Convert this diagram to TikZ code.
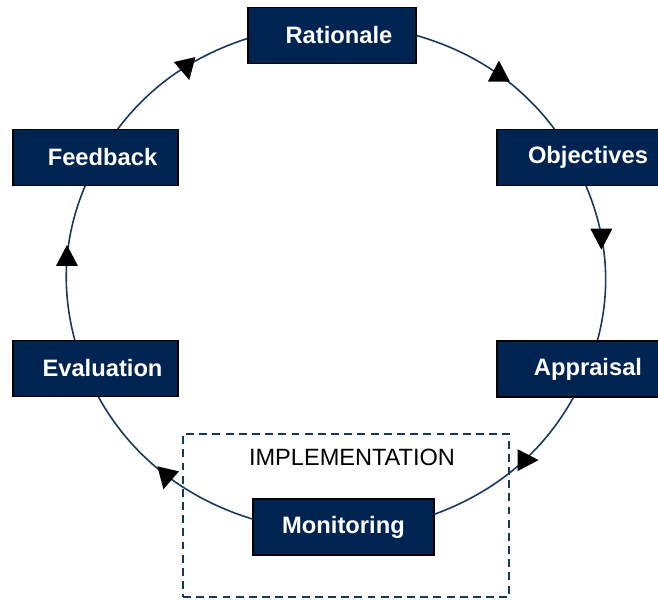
\documentclass[tikz,border=0pt]{standalone}
\usepackage{fontspec}
\setmainfont{Liberation Sans}
\usepackage{tikz}
\usetikzlibrary{decorations.markings}
\definecolor{eNavy}{HTML}{002451}
\definecolor{eLine}{HTML}{17375E}
\tikzset{box/.style={rectangle, draw=black, fill=eNavy, text=white, line width=0.6pt,
  inner sep=0pt, minimum height=11.2mm, font=\fontsize{13.5}{16}\selectfont\bfseries}}
\tikzset{rbox/.style={box, execute at begin node={\hspace*{2.8mm}}}}
\tikzset{lnk/.style={draw=eLine, line width=0.9pt, looseness=0.9}}
\tikzset{arr/.style 2 args={postaction={decorate, decoration={markings,
  mark=at position #1 with {\pgftransformresetnontranslations\pgftransformrotate{#2}
  \fill[black] (0.28,0) -- (-0.14,0.22) -- (-0.14,-0.22) -- cycle;}}}}}
\tikzset{implbox/.style={draw=eLine, line width=1.1pt, dash pattern=on 4.5pt off 3pt,
  minimum width=65.2mm, minimum height=32.6mm, inner sep=0pt}}

\begin{document}
\begin{tikzpicture}
        \useasboundingbox (0,0) rectangle (13.16,12);
        %% implementation frame
        \node (impl) at (6.92,1.69) [implbox] {};
        \node (implText) at (7.04,2.86) {\fontsize{13.4}{16}\selectfont IMPLEMENTATION};
        %% cycle
        \node (rat) at (6.64,11.29) [rbox, minimum width=33.6mm] {Rationale};
        \node (obj) at (11.62,8.85) [rbox, minimum width=33.6mm] {Objectives};
        \node (app) at (11.62,4.62) [rbox, minimum width=33.6mm] {Appraisal};
        \node (mon) at (6.87,1.46) [box, minimum width=36.2mm] {Monitoring};
        \node (eva) at (1.91,4.63) [rbox, minimum width=33mm] {Evaluation};
        \node (fb) at (1.91,8.85) [rbox, minimum width=33mm] {Feedback};
        \draw [lnk, arr={0.54}{90}] (rat.east) to [out=-16, in=127] (obj.133);
        \draw [lnk, arr={0.33}{-90}] (obj.280) to [out=-67, in=75] (app.60);
        \draw [lnk, arr={0.43}{0}] (app.255) to [out=-119, in=20] (mon.8);
        \draw [lnk, arr={0.48}{-103}] (mon.175) to [out=163, in=-61] (eva.276);
        \draw [lnk, arr={0.52}{90}] (eva.126) to [out=105, in=247] (fb.250);
        \draw [lnk, arr={0.58}{-77}] (fb.52) to [out=53, in=198] (rat.182);
    \end{tikzpicture}
\end{document}
